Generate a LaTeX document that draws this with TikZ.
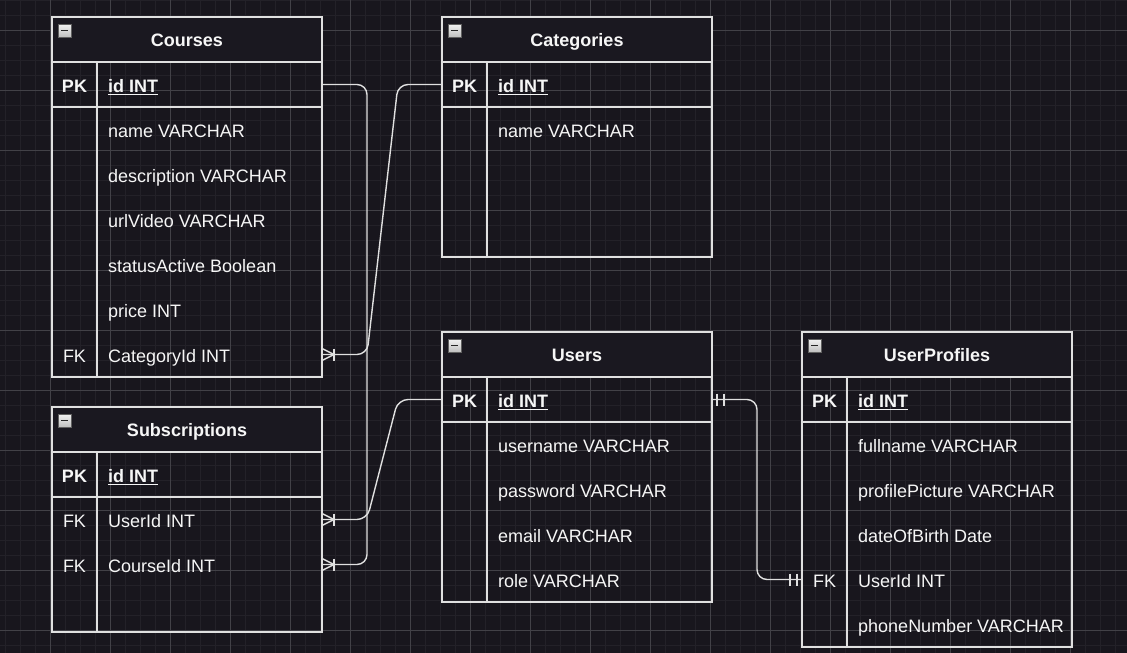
\documentclass[tikz,border=0pt]{standalone}
\usepackage{fontspec}
\setmainfont{Liberation Sans}
\definecolor{bg}{HTML}{18161D}
\definecolor{gminor}{HTML}{232128}
\definecolor{gmajor}{HTML}{424147}
\definecolor{hdfill}{HTML}{1A1820}
\definecolor{edge}{HTML}{E0E0E0}
\definecolor{txt}{HTML}{F6F6F6}
\newcommand\efont{\fontsize{18}{21}\selectfont}
\newcommand\ertable[5]{%
  \node[headbox] (#1-h) at (#2,#3) {};
  \node[bodybox,minimum height=#5pt] (#1-b) at (#2,{#3+45}) {};
  \draw[tline] ([yshift=-45pt]#1-b.north west) -- ([yshift=-45pt]#1-b.north east);
  \draw[tline] ([xshift=45pt]#1-b.north west) -- ([xshift=45pt]#1-b.south west);
  \node[ttl] (#1-t) at ({#2+135},{#3+29}) {#4};
  \shade[top color=gray!10,bottom color=gray!50,draw=gray!75!black,line width=0.9pt] ({#2+6},{#3+7}) rectangle ++(13,13);
  \draw[black!85,line width=1.6pt] ({#2+9},{#3+13.5}) -- ++(7,0);
}
\newcommand\erkey[5]{\node[#5] (#1) at ({#2+22.5},{#3+30}) {#4};}
\newcommand\erfld[4]{\node[rowt] (#1) at ({#2+56},{#3+30}) {#4};}
\newcommand\erpk[3]{%
  \node[keyt] (#1-pk) at ({#2+22.5},{#3+30}) {PK};
  \node[pkt] (#1-id) at ({#2+56},{#3+30}) {id INT};
  \draw[txt,line width=1.5pt] ([yshift=-2.6pt]#1-id.base west) -- ([yshift=-2.6pt]#1-id.base east);
}
\newcommand\crowfoot[1]{%
  \draw[tline] ([yshift=6pt]#1) -- ([xshift=12pt]#1) -- ([yshift=-6pt]#1);
  \draw[tline] ([xshift=12pt,yshift=6pt]#1) -- ([xshift=12pt,yshift=-6pt]#1);
}
\newcommand\twobars[2]{%
  \draw[tline] ([xshift=#2*5pt,yshift=6pt]#1) -- ([xshift=#2*5pt,yshift=-6pt]#1);
  \draw[tline] ([xshift=#2*12pt,yshift=6pt]#1) -- ([xshift=#2*12pt,yshift=-6pt]#1);
}
\begin{document}
\begin{tikzpicture}[x=1pt,y=-1pt,
  tline/.style={draw=edge,line width=1.4pt},
  headbox/.style={draw=edge,line width=1.4pt,fill=hdfill,minimum width=270pt,minimum height=45pt,anchor=north west,inner sep=0pt,outer sep=0pt},
  bodybox/.style={draw=edge,line width=1.4pt,minimum width=270pt,anchor=north west,inner sep=0pt,outer sep=0pt},
  ttl/.style={font=\efont\bfseries,text=txt,inner sep=0pt,anchor=base},
  keyt/.style={font=\efont\bfseries,text=txt,inner sep=0pt,anchor=base},
  fkt/.style={font=\efont,text=txt,inner sep=0pt,anchor=base},
  rowt/.style={font=\efont,text=txt,inner sep=0pt,anchor=base west},
  pkt/.style={font=\efont\bfseries,text=txt,inner sep=0pt,anchor=base west},
  conn/.style={draw=edge,line width=1.4pt,rounded corners=10pt}]
\useasboundingbox (0,0) rectangle (1127,653);
\fill[bg] (0,0) rectangle (1127,653);
\foreach \x in {5,20,...,1125} \draw[gminor,line width=1pt] (\x,0) -- (\x,653);
\foreach \y in {0,15,...,650} \draw[gminor,line width=1pt] (0,\y) -- (1127,\y);
\foreach \x in {50,110,...,1110} \draw[gmajor,line width=1pt] (\x,0) -- (\x,653);
\foreach \y in {30,90,...,630} \draw[gmajor,line width=1pt] (0,\y) -- (1127,\y);

% Courses
\ertable{courses}{52}{17}{Courses}{315}
\erpk{courses}{52}{62}
\erfld{courses-name}{52}{107}{name VARCHAR}
\erfld{courses-desc}{52}{152}{description VARCHAR}
\erfld{courses-url}{52}{197}{urlVideo VARCHAR}
\erfld{courses-status}{52}{242}{statusActive Boolean}
\erfld{courses-price}{52}{287}{price INT}
\erkey{courses-fk}{52}{332}{FK}{fkt}
\erfld{courses-cat}{52}{332}{CategoryId INT}

% Categories
\ertable{categories}{442}{17}{Categories}{195}
\erpk{categories}{442}{62}
\erfld{categories-name}{442}{107}{name VARCHAR}

% Subscriptions
\ertable{subs}{52}{407}{Subscriptions}{180}
\erpk{subs}{52}{452}
\erkey{subs-fk1}{52}{497}{FK}{fkt}
\erfld{subs-user}{52}{497}{UserId INT}
\erkey{subs-fk2}{52}{542}{FK}{fkt}
\erfld{subs-course}{52}{542}{CourseId INT}

% Users
\ertable{users}{442}{332}{Users}{225}
\erpk{users}{442}{377}
\erfld{users-username}{442}{422}{username VARCHAR}
\erfld{users-password}{442}{467}{password VARCHAR}
\erfld{users-email}{442}{512}{email VARCHAR}
\erfld{users-role}{442}{557}{role VARCHAR}

% UserProfiles
\ertable{profiles}{802}{332}{UserProfiles}{270}
\erpk{profiles}{802}{377}
\erfld{profiles-full}{802}{422}{fullname VARCHAR}
\erfld{profiles-pic}{802}{467}{profilePicture VARCHAR}
\erfld{profiles-dob}{802}{512}{dateOfBirth Date}
\erkey{profiles-fk}{802}{557}{FK}{fkt}
\erfld{profiles-user}{802}{557}{UserId INT}
\erfld{profiles-phone}{802}{602}{phoneNumber VARCHAR}

% connector end points on the table edges
\coordinate (courses-idE) at (courses-b.east |- 0,84.5);
\coordinate (courses-catE) at (courses-b.east |- 0,354.5);
\coordinate (categories-idW) at (categories-b.west |- 0,84.5);
\coordinate (subs-userE) at (subs-b.east |- 0,519.5);
\coordinate (subs-courseE) at (subs-b.east |- 0,564.5);
\coordinate (users-idW) at (users-b.west |- 0,399.5);
\coordinate (users-idE) at (users-b.east |- 0,399.5);
\coordinate (profiles-userW) at (profiles-b.west |- 0,579.5);

% connectors
\draw[conn] (categories-idW) -- (398,84.5) -- (367,354.5) -- (courses-catE);
\draw[conn] (courses-idE) -- (367,84.5) -- (367,564.5) -- (subs-courseE);
\draw[conn] (users-idW) -- (398,399.5) -- (367,519.5) -- (subs-userE);
\draw[conn] (users-idE) -- (757,399.5) -- (757,579.5) -- (profiles-userW);

\crowfoot{courses-catE}
\crowfoot{subs-userE}
\crowfoot{subs-courseE}
\twobars{users-idE}{1}
\twobars{profiles-userW}{-1}
\end{tikzpicture}
\end{document}
